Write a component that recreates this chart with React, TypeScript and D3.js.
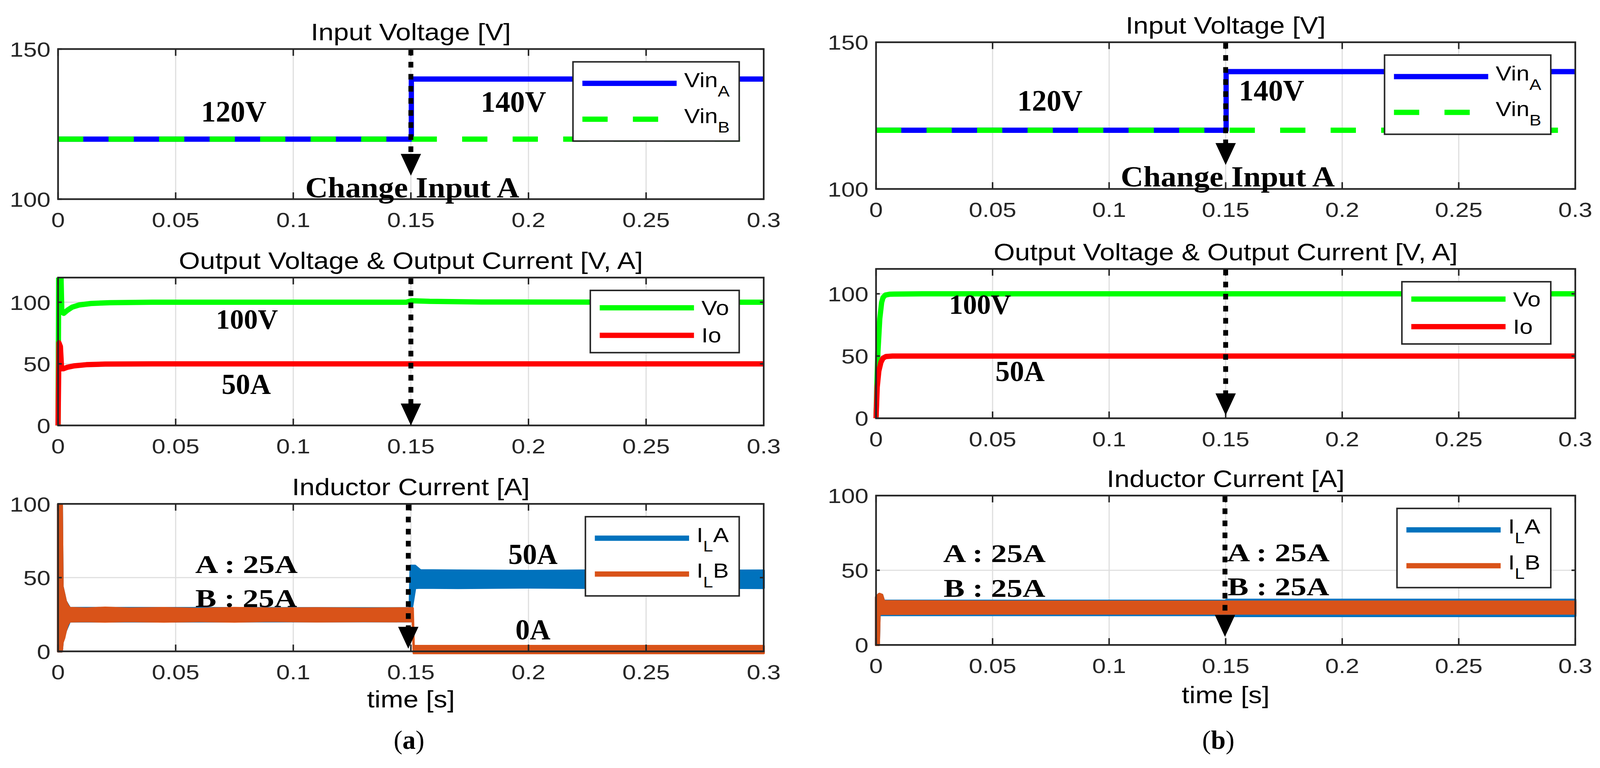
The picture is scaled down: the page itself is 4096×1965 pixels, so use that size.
import React from 'react';
import * as d3 from 'd3';

// ---------------- DATA ----------------
const timeTicks = [0, 0.05, 0.1, 0.15, 0.2, 0.25, 0.3];
const timeTickLabels = ['0', '0.05', '0.1', '0.15', '0.2', '0.25', '0.3'];
const vinTicks = [100, 150];
const outTicks = [0, 50, 100];
const indTicks = [0, 50, 100];
const vinDomain = [100, 150];
const outDomain = [0, 120];
const indDomain = [0, 100];

const titles = ['Input Voltage [V]', 'Output Voltage & Output Current [V, A]', 'Inductor Current [A]'];
const xLabelText = 'time [s]';
const panelLetters = ['a', 'b'];

// (a) input voltages [t, V]
const vinA_a = [[0, 120], [0.1502, 120], [0.1502, 140], [0.3, 140]];
const vinB_a = [[0, 120], [0.3, 120]];
// (b)
const vinA_b = [[0, 120], [0.1502, 120], [0.1502, 140], [0.3, 140]];
const vinB_b = [[0, 120], [0.3, 120]];

// (a) output voltage / current [t, value]
const vo_a = [[0, 0], [0.0003, 135], [0.0011, 135], [0.0016, 92], [0.0024, 91], [0.004, 93.5], [0.006, 96], [0.009, 97.8], [0.014, 99], [0.022, 99.6], [0.04, 100], [0.148, 100], [0.1503, 101.2], [0.158, 100.7], [0.18, 100.2], [0.3, 100]];
const io_a = [[0, 0], [0.0004, 67], [0.001, 64], [0.0015, 46], [0.0022, 46], [0.004, 47.2], [0.007, 48.4], [0.012, 49.3], [0.02, 49.8], [0.04, 50], [0.3, 50]];
// (b)
const vo_b = [[0, 0], [0.0004, 30], [0.0008, 53], [0.0016, 80], [0.0024, 93], [0.003, 97], [0.004, 99], [0.006, 99.7], [0.02, 100], [0.3, 100]];
const io_b = [[0, 0], [0.0005, 25], [0.0012, 38], [0.0021, 45], [0.003, 48.3], [0.0042, 49.6], [0.007, 50], [0.3, 50]];

// inductor current ripple envelopes [t, low, high]
const ilA_a = [[0, 0, 100], [0.0016, 0, 100], [0.0019, 6, 44], [0.0033, 14, 34], [0.005, 20.3, 29.4], [0.1495, 20.4, 29.2], [0.1499, 24, 58], [0.1518, 43, 58], [0.154, 43.2, 55], [0.17, 43, 54.8], [0.2, 43.3, 54.5], [0.24, 43, 55], [0.27, 43.2, 54.6], [0.3, 43, 54.8]];
const ilB_a = [[0, 0, 100], [0.0016, 0, 100], [0.0019, 6, 44], [0.0026, 9, 39], [0.0033, 14, 34], [0.0042, 18.5, 31], [0.005, 20.3, 29.4], [0.012, 20.5, 29], [0.02, 20.2, 29.6], [0.03, 20.6, 29], [0.045, 20.2, 29.3], [0.06, 20.6, 28.8], [0.075, 20.2, 29.4], [0.09, 20.7, 29], [0.11, 20.3, 29.2], [0.13, 20.5, 28.9], [0.1495, 20.4, 29.2], [0.1508, 20.4, 29.2], [0.1512, -1.2, 3.6], [0.3, -1.2, 3.6]];
const ilA_b = [[0, 0, 32], [0.0012, 0, 34], [0.0015, 20, 34], [0.0026, 20, 33.5], [0.0034, 20, 29.6], [0.1498, 20, 29.6], [0.1505, 19.4, 30.2], [0.3, 19.4, 30.2]];
const ilB_b = [[0, 0, 32], [0.0012, 0, 34], [0.0015, 20.8, 34.2], [0.0026, 20.8, 33.5], [0.0034, 20.8, 29.3], [0.05, 21, 29], [0.15, 21, 29], [0.3, 21, 29]];

// arrows at the input change [t, tip value]
const arrows_a = [[0.15, 107.8], [0.15, 0], [0.1489, 1.8]];
const arrows_b = [[0.15, 108.2], [0.15, 2.4], [0.1497, 5.5]];

// annotations [text, t, value]
const notes_a = [
  [['120V', 0.0747, 125.8], ['140V', 0.1936, 129.1], ['Change Input A', 0.1506, 100.6]],
  [['100V', 0.0803, 78.4], ['50A', 0.08, 25.7]],
  [['A : 25A', 0.0801, 53.2], ['B : 25A', 0.08, 30.2], ['50A', 0.2019, 59.3], ['0A', 0.2019, 8.2]],
];
const notes_b = [
  [['120V', 0.0746, 126.7], ['140V', 0.1697, 130.2], ['Change Input A', 0.1509, 100.8]],
  [['100V', 0.0446, 84], ['50A', 0.0618, 30]],
  [['A : 25A', 0.0508, 55.6], ['B : 25A', 0.0508, 32.3], ['A : 25A', 0.1726, 56.1], ['B : 25A', 0.1726, 33.3]],
];

const legendVin = [['Vin', 'A', ''], ['Vin', 'B', '']];
const legendOut = [['Vo', '', ''], ['Io', '', '']];
const legendInd = [['I', 'L', 'A'], ['I', 'L', 'B']];

// ---------------- STYLE ----------------
const SANS = '"Liberation Sans", Arial, Helvetica, sans-serif';
const SERIF = '"Liberation Serif", "Times New Roman", serif';
const AX = '#262626';
const GRID = '#dedede';
const C_BLUE = '#0000ff';
const C_GREEN = '#00ff00';
const C_RED = '#ff0000';
const C_ILA = '#0072bd';
const C_ILB = '#d95319';

const noteStyle = {
  '120V': { size: 78 }, '140V': { size: 78 }, 'Change Input A': { size: 76, len: 568 },
  '100V': { size: 74 }, '50A': { size: 76 }, '0A': { size: 76 },
  'A : 25A': { size: 68, len: 272 }, 'B : 25A': { size: 68, len: 270 },
};

function SText({ x, y, size, anchor = 'middle', sx = 1.15, fill = '#000', children }: any) {
  return (
    <text transform={`translate(${x},${y}) scale(${sx},1)`} fontFamily={SANS} fontSize={size} textAnchor={anchor} fill={fill}>
      {children}
    </text>
  );
}

function Subplot({ id, x0, x1, y0, y1, domain, yTicks, title, lines, bands, legend, arrow, notes, xlab, xlabY }: any) {
  const x = d3.scaleLinear().domain([0, 0.3]).range([x0, x1]);
  const y = d3.scaleLinear().domain(domain).range([y1, y0]);
  const line = d3.line<any>().x((d) => x(d[0])).y((d) => y(d[1]));
  const area = d3.area<any>().x((d) => x(d[0])).y0((d) => y(d[1])).y1((d) => y(d[2]));
  const clipId = `clip-${id}`;
  const innerX = timeTicks.filter((t) => t > 0 && t < 0.3);
  const innerY = yTicks.filter((v: number) => v > domain[0] && v < domain[1]);

  const lg = legend;
  const lx = x1 - 65 - lg.w;
  const ly = y0 + 34;

  const ax = x(arrow[0]);
  const tipY = y(arrow[1]);
  const headLen = 58;
  const headW = 27;

  return (
    <g>
      <defs>
        <clipPath id={clipId}>
          <rect x={x0 - 30} y={y0} width={x1 - x0 + 60} height={y1 - y0 + 30} />
        </clipPath>
      </defs>
      {innerX.map((t) => (
        <line key={'gx' + t} x1={x(t)} x2={x(t)} y1={y0} y2={y1} stroke={GRID} strokeWidth={3} />
      ))}
      {innerY.map((v: number) => (
        <line key={'gy' + v} x1={x0} x2={x1} y1={y(v)} y2={y(v)} stroke={GRID} strokeWidth={3} />
      ))}
      <g clipPath={`url(#${clipId})`}>
        {bands.map((b: any, i: number) => (
          <path key={'b' + i} d={area(b.data) || ''} fill={b.color} stroke={b.color} strokeWidth={6} strokeLinejoin="round" />
        ))}
        {lines.map((l: any, i: number) => (
          <path key={'l' + i} d={line(l.data) || ''} fill="none" stroke={l.color} strokeWidth={14}
            strokeDasharray={l.dash || undefined} strokeLinejoin="round" strokeLinecap="butt" />
        ))}
      </g>
      <rect x={x0} y={y0} width={x1 - x0} height={y1 - y0} fill="none" stroke={AX} strokeWidth={4.5} />
      {timeTicks.map((t) => (
        <g key={'tx' + t}>
          <line x1={x(t)} x2={x(t)} y1={y1} y2={y1 - 18} stroke={AX} strokeWidth={4} />
          <line x1={x(t)} x2={x(t)} y1={y0} y2={y0 + 18} stroke={AX} strokeWidth={4} />
        </g>
      ))}
      {yTicks.map((v: number) => (
        <g key={'ty' + v}>
          <line x1={x0} x2={x0 + 10} y1={y(v)} y2={y(v)} stroke={AX} strokeWidth={4} />
          <line x1={x1} x2={x1 - 10} y1={y(v)} y2={y(v)} stroke={AX} strokeWidth={4} />
        </g>
      ))}
      {timeTicks.map((t, i) => (
        <SText key={'lx' + t} x={x(t)} y={y1 + 74} size={54} sx={1.2} fill={AX}>{timeTickLabels[i]}</SText>
      ))}
      {yTicks.map((v: number) => (
        <SText key={'ly' + v} x={x0 - 20} y={y(v) + 20} size={54} sx={1.2} anchor="end" fill={AX}>{String(v)}</SText>
      ))}
      <SText x={(x0 + x1) / 2} y={y0 - 23} size={64} sx={1.13}>{title}</SText>
      {xlab && <SText x={(x0 + x1) / 2} y={xlabY} size={64} sx={1.13}>{xLabelText}</SText>}
      <rect x={lx} y={ly} width={lg.w} height={lg.h} fill="#fff" stroke={AX} strokeWidth={4} />
      {lg.rows.map((r: any, i: number) => {
        const ry = ly + lg.rowY[i];
        const [main, sub, tail] = r.label;
        const plain = !sub;
        return (
          <g key={'lg' + i}>
            <line x1={lx + 25} x2={lx + 275} y1={ry} y2={ry} stroke={r.color} strokeWidth={14} strokeDasharray={r.dash || undefined} />
            <SText x={lx + 295} y={ry + (plain ? 19 : 10)} size={53} sx={1.18} anchor="start">
              <tspan>{main}</tspan>
              {sub && <tspan fontSize={40} dy={25}>{sub}</tspan>}
              {tail && <tspan fontSize={53} dy={-25}>{tail}</tspan>}
            </SText>
          </g>
        );
      })}
      <line x1={ax} x2={ax} y1={y0 + 2} y2={tipY - headLen + 4} stroke="#000" strokeWidth={13} strokeDasharray="15 17" />
      <path d={`M${ax - headW},${tipY - headLen} L${ax + headW},${tipY - headLen} L${ax},${tipY} Z`} fill="#000" />
      {notes.map((n: any, i: number) => {
        const st = (noteStyle as any)[n[0]] || { size: 76 };
        return (
          <text key={'n' + i} x={x(n[1])} y={y(n[2])} fontFamily={SERIF} fontWeight="bold" fontSize={st.size}
            textAnchor="middle" fill="#000" xmlSpace="preserve"
            {...(st.len ? { textLength: st.len, lengthAdjust: 'spacingAndGlyphs' } : {})}>
            {n[0]}
          </text>
        );
      })}
    </g>
  );
}

export default function App() {
  const S = 0.965;
  const panels = [
    {
      key: 'a', x0: 154, x1: 2026, rows: [[130, 528], [736, 1128], [1336, 1727]], xlabY: 1876, letterX: 1085,
      vinA: vinA_a, vinB: vinB_a, vo: vo_a, io: io_a, ilA: ilA_a, ilB: ilB_a, arrows: arrows_a, notes: notes_a,
    },
    {
      key: 'b', x0: 2324, x1: 4179, rows: [[112, 501], [713, 1109], [1314, 1710]], xlabY: 1864, letterX: 3232,
      vinA: vinA_b, vinB: vinB_b, vo: vo_b, io: io_b, ilA: ilA_b, ilB: ilB_b, arrows: arrows_b, notes: notes_b,
    },
  ];
  return (
    <svg width={4096} height={1965} style={{ position: 'absolute', left: 0, top: 0, display: 'block', background: '#fff' }}>
      <rect x={0} y={0} width={4096} height={1965} fill="#fff" />
      <g transform={`scale(${S})`}>
        {panels.map((p, pi) => (
          <g key={p.key}>
            <Subplot id={p.key + '1'} x0={p.x0} x1={p.x1} y0={p.rows[0][0]} y1={p.rows[0][1]} domain={vinDomain} yTicks={vinTicks}
              title={titles[0]}
              lines={[{ data: p.vinA, color: C_BLUE }, { data: p.vinB, color: C_GREEN, dash: '67 67' }]}
              bands={[]}
              legend={{ w: 441, h: 210, rowY: [57, 152], rows: [{ color: C_BLUE, label: legendVin[0] }, { color: C_GREEN, dash: '67 67', label: legendVin[1] }] }}
              arrow={p.arrows[0]} notes={p.notes[0]} />
            <Subplot id={p.key + '2'} x0={p.x0} x1={p.x1} y0={p.rows[1][0]} y1={p.rows[1][1]} domain={outDomain} yTicks={outTicks}
              title={titles[1]}
              lines={[{ data: p.vo, color: C_GREEN }, { data: p.io, color: C_RED }]}
              bands={[]}
              legend={{ w: 395, h: 165, rowY: [46, 119], rows: [{ color: C_GREEN, label: legendOut[0] }, { color: C_RED, label: legendOut[1] }] }}
              arrow={p.arrows[1]} notes={p.notes[1]} />
            <Subplot id={p.key + '3'} x0={p.x0} x1={p.x1} y0={p.rows[2][0]} y1={p.rows[2][1]} domain={indDomain} yTicks={indTicks}
              title={titles[2]}
              lines={[]}
              bands={[{ data: p.ilA, color: C_ILA }, { data: p.ilB, color: C_ILB }]}
              legend={{ w: 408, h: 210, rowY: [57, 152], rows: [{ color: C_ILA, label: legendInd[0] }, { color: C_ILB, label: legendInd[1] }] }}
              arrow={p.arrows[2]} notes={p.notes[2]} xlab xlabY={p.xlabY} />
            <text x={p.letterX} y={1985} fontFamily={SERIF} fontSize={70} textAnchor="middle" fill="#000">
              (<tspan fontWeight="bold">{panelLetters[pi]}</tspan>)
            </text>
          </g>
        ))}
      </g>
    </svg>
  );
}
